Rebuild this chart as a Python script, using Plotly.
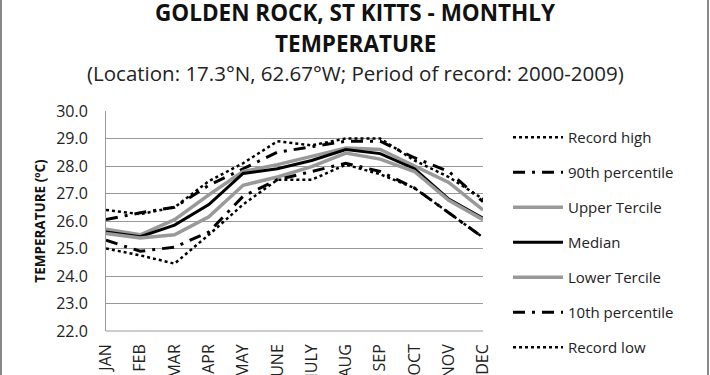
import plotly.graph_objects as go

months = ["JAN", "FEB", "MAR", "APR", "MAY", "JUNE", "JULY", "AUG", "SEP", "OCT", "NOV", "DEC"]
record_high = [26.4, 26.25, 26.5, 27.45, 28.1, 28.9, 28.75, 29.0, 29.0, 28.2, 27.6, 26.8]
p90 = [26.05, 26.3, 26.5, 27.3, 27.9, 28.5, 28.7, 28.9, 28.9, 28.3, 27.8, 26.7]
upper_tercile = [25.7, 25.5, 26.05, 26.95, 27.8, 28.05, 28.35, 28.65, 28.6, 28.0, 27.4, 26.4]
median = [25.6, 25.43, 25.85, 26.6, 27.73, 27.9, 28.2, 28.6, 28.45, 27.9, 26.8, 26.1]
lower_tercile = [25.55, 25.38, 25.5, 26.15, 27.3, 27.6, 27.98, 28.47, 28.25, 27.8, 26.75, 26.05]
p10 = [25.3, 24.9, 25.05, 25.6, 26.9, 27.5, 27.8, 28.1, 27.8, 27.2, 26.3, 25.4]
record_low = [25.0, 24.75, 24.45, 25.5, 26.6, 27.5, 27.5, 28.05, 27.7, 27.2, 26.3, 25.4]

series = [
    ("Record high", record_high, dict(color="black", width=2.5, dash="dot")),
    ("90th percentile", p90, dict(color="black", width=3, dash="12px,7px,3px,7px")),
    ("Upper Tercile", upper_tercile, dict(color="#999999", width=3.5)),
    ("Median", median, dict(color="black", width=3)),
    ("Lower Tercile", lower_tercile, dict(color="#999999", width=3.5)),
    ("10th percentile", p10, dict(color="black", width=3, dash="12px,7px,3px,7px")),
    ("Record low", record_low, dict(color="black", width=2.5, dash="dot")),
]

fig = go.Figure()
for i, (name, vals, line) in enumerate(series):
    fig.add_trace(go.Scatter(x=months, y=vals, name=name, mode="lines", line=line,
                             legendgroup=f"g{i}"))

FONT = "'Open Sans', Lato, sans-serif"
L, R, T, B = 106, 483, 111, 331
PW, PH = R - L, B - T


def px(xp):
    return (xp - L) / PW


def py(yp):
    return (B - yp) / PH


fig.update_layout(
    width=710, height=375,
    margin=dict(l=L, r=710 - R, t=T, b=375 - B, autoexpand=False),
    paper_bgcolor="white", plot_bgcolor="white",
    font=dict(family=FONT, color="#222222"),
    showlegend=True,
    legend=dict(x=px(508), y=py(121), xanchor="left", yanchor="top",
                font=dict(size=15, color="#222222"), tracegroupgap=12.5,
                itemwidth=50, bgcolor="rgba(0,0,0,0)", maxheight=330),
    annotations=[
        dict(text="<b>GOLDEN ROCK, ST KITTS - MONTHLY</b>", x=px(355), y=py(13),
             xref="paper", yref="paper", xanchor="center", yanchor="middle", showarrow=False,
             font=dict(size=22.5, color="#111111", family=FONT)),
        dict(text="<b>TEMPERATURE</b>", x=px(355), y=py(43),
             xref="paper", yref="paper", xanchor="center", yanchor="middle", showarrow=False,
             font=dict(size=22.5, color="#111111", family=FONT)),
        dict(text="(Location: 17.3°N, 62.67°W; Period of record: 2000-2009)",
             x=px(355), y=py(73), xref="paper", yref="paper",
             xanchor="center", yanchor="middle", showarrow=False,
             font=dict(size=20.5, color="#222222", family=FONT)),
    ],
)
fig.update_xaxes(tickangle=-90, tickfont=dict(size=16, color="#222222"), showgrid=False,
                 showline=False, ticks="", ticklabelstandoff=9, automargin=False)
fig.update_yaxes(range=[22, 30], dtick=1, tickformat=".1f", showgrid=True, gridcolor="#999999",
                 gridwidth=1, showline=True, linecolor="#999999", linewidth=1, zeroline=False,
                 tickfont=dict(size=16, color="#222222"), ticks="", ticklabelstandoff=14,
                 automargin=False,
                 title=dict(text="<b>TEMPERATURE (ºC)</b>", font=dict(size=13.5, color="#111111"),
                            standoff=7))
fig.add_shape(type="line", xref="paper", yref="paper", x0=0, x1=1, y0=0, y1=0,
              line=dict(color="#999999", width=1))
# outer chart border (left and right edges)
fig.add_shape(type="line", xref="paper", yref="paper", x0=px(1), x1=px(1), y0=py(400), y1=py(-20),
              line=dict(color="#888888", width=2))
fig.add_shape(type="line", xref="paper", yref="paper", x0=px(708), x1=px(708),
              y0=py(400), y1=py(-20), line=dict(color="#888888", width=2))

fig.write_html("out.html", config={"displayModeBar": False},
               post_script="document.body.style.margin='0';")
